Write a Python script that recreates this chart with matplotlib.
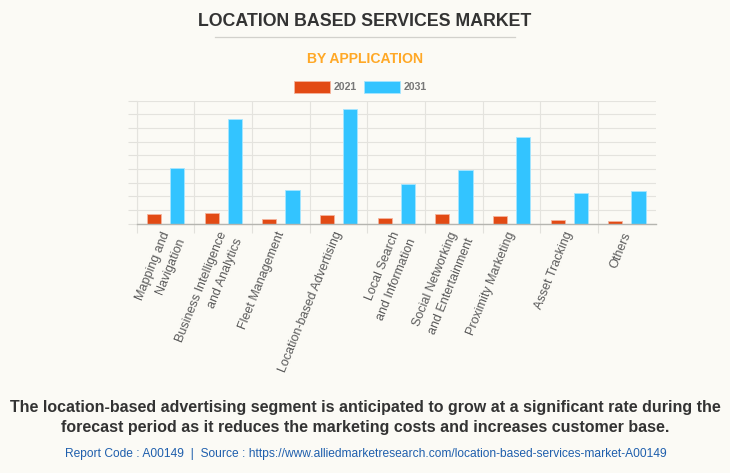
import matplotlib
matplotlib.use("Agg")
import matplotlib.pyplot as plt
from matplotlib.transforms import ScaledTranslation
import numpy as np

categories = ["Mapping and\nNavigation", "Business Intelligence\nand Analytics", "Fleet Management",
              "Location-based Advertising", "Local Search\nand Information", "Social Networking\nand Entertainment",
              "Proximity Marketing", "Asset Tracking", "Others"]
values_2021 = [0.71, 0.76, 0.32, 0.66, 0.46, 0.71, 0.54, 0.27, 0.22]
values_2031 = [4.05, 7.70, 2.44, 8.41, 2.88, 3.97, 6.34, 2.24, 2.37]
series_names = ["2021", "2031"]

BG = "#FBFAF5"
W, H = 730, 473
plt.rcParams["font.family"] = ["Liberation Sans", "DejaVu Sans"]
fig = plt.figure(figsize=(W / 100, H / 100), dpi=100, facecolor=BG)
ax = fig.add_axes([136.8 / W, 1 - 223.8 / H, (655.8 - 136.8) / W, (223.8 - 100.8) / H], facecolor=BG)

x = np.arange(len(categories))
ax.bar(x - 0.2, values_2021, 0.243, color="#E24A14", edgecolor="#F4B49C", linewidth=0.6, zorder=3)
ax.bar(x + 0.2, values_2031, 0.243, color="#33C4FF", edgecolor="#A6E6FF", linewidth=0.6, zorder=3)

ax.set_xlim(-0.5, len(categories) - 0.5)
ax.set_ylim(0, 9)
ax.set_yticks(range(10))
ax.set_yticklabels([])
ax.set_xticks(x - 0.5, minor=False)
ax.set_xticklabels([""] * len(categories))
ax.set_xticks(x, minor=True)
ax.set_xticklabels(categories, minor=True, rotation=68, ha="right", va="top", rotation_mode="anchor",
                   fontsize=9.0, color="#5A5A5A", ma="right", linespacing=1.55)
ax.tick_params(axis="x", which="minor", length=0, pad=4.5)
ax.tick_params(axis="x", which="major", length=6.5, width=0.8, color="#E2E1DC")
ax.tick_params(axis="y", length=6.5, width=0.8, color="#E2E1DC")
shift = ScaledTranslation(-5 / 100, 0, fig.dpi_scale_trans)
for lab in ax.get_xticklabels(minor=True):
    lab.set_transform(lab.get_transform() + shift)
ax.grid(True, which="major", color="#E4E3DE", linewidth=0.8, zorder=0)
for s in ["top", "right"]:
    ax.spines[s].set_visible(False)
ax.spines["left"].set_color("#E4E3DE")
ax.spines["bottom"].set_color("#B5B5B0")
ax.spines["bottom"].set_linewidth(1.0)
ax.spines["bottom"].set_zorder(4)

def T(px, py, s, **kw):
    fig.text(px / W, 1 - py / H, s, ha=kw.pop("ha", "center"), va=kw.pop("va", "center"), **kw)

T(365, 21, "LOCATION BASED SERVICES MARKET", fontsize=12.8, fontweight="bold", color="#333333")
fig.add_artist(plt.Line2D([215 / W, 515 / W], [1 - 37.5 / H] * 2, color="#D2D1CC", linewidth=0.9))
T(365, 59, "BY APPLICATION", fontsize=10.1, fontweight="bold", color="#FFA826")

for px, name, c, e in [(294, series_names[0], "#E24A14", "#F4B49C"), (364, series_names[1], "#33C4FF", "#A6E6FF")]:
    fig.add_artist(plt.Rectangle((px / W, 1 - 93.5 / H), 36 / W, 12 / H, transform=fig.transFigure,
                                 facecolor=c, edgecolor=e, linewidth=0.6))
    T(px + 40, 87, name, ha="left", fontsize=7.6, fontweight="bold", color="#777777")

T(365.5, 407, "The location-based advertising segment is anticipated to grow at a significant rate during the",
  fontsize=11.5, fontweight="bold", color="#333333")
T(365, 427, "forecast period as it reduces the marketing costs and increases customer base.",
  fontsize=11.5, fontweight="bold", color="#333333")
T(365.5, 454, "Report Code : A00149  |  Source : https://www.alliedmarketresearch.com/location-based-services-market-A00149",
  fontsize=8.63, color="#1F5FAD")

fig.savefig("out.png", dpi=100, facecolor=BG)
